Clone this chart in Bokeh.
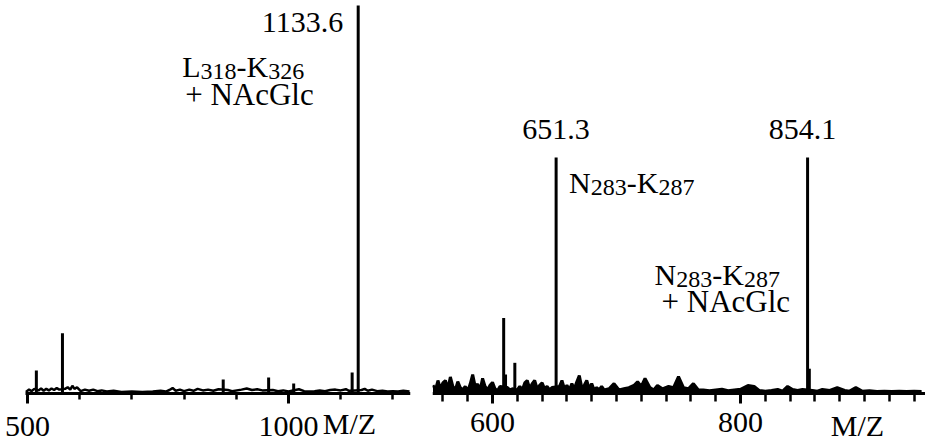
from bokeh.plotting import figure
from bokeh.layouts import row
from bokeh.models import Label, FixedTicker
from bokeh.embed import file_html
from bokeh.resources import INLINE

# ---------------- data ----------------
# Left spectrum (relative intensity, %)
left_peak_mz = [517, 567, 875, 962, 1010, 1122, 1133.6]
left_peak_int = [5.9, 15.5, 3.6, 4.1, 2.6, 5.4, 100]
left_noise_mz = [497, 503, 508, 513, 521, 526, 531, 536, 541, 546, 551, 556, 561, 572, 577,
                 582, 586, 590, 595, 602, 610, 618, 626, 634, 642, 652, 665, 680, 700, 720,
                 740, 755, 765, 772, 778, 784, 792, 800, 810, 818, 826, 836, 846, 856, 866,
                 884, 892, 910, 920, 930, 940, 950, 970, 980, 990, 1000, 1020, 1030, 1040,
                 1050, 1060, 1070, 1080, 1090, 1100, 1110, 1116, 1128, 1140, 1146, 1152,
                 1160, 1170, 1180, 1190, 1200, 1210, 1220, 1232]
left_noise_int = [0.4, 1.0, 0.6, 1.2, 0.8, 1.3, 0.7, 1.2, 0.8, 1.3, 0.9, 1.4, 1.0, 1.2, 1.6,
                  1.0, 2.0, 1.2, 1.6, 0.6, 1.0, 0.7, 1.0, 0.6, 0.8, 0.5, 0.7, 0.4, 0.5, 0.4,
                  0.5, 0.7, 0.5, 0.9, 1.4, 0.7, 1.0, 0.6, 1.0, 0.7, 1.2, 0.8, 1.0, 0.7, 1.1,
                  0.9, 0.6, 1.0, 1.3, 0.9, 1.1, 0.8, 0.9, 0.6, 0.8, 0.5, 1.1, 0.6, 0.5,
                  0.6, 0.8, 0.6, 0.9, 1.0, 0.8, 1.1, 0.7, 0.8, 0.9, 1.2, 0.7,
                  1.0, 0.6, 0.7, 0.5, 0.6, 0.5, 0.7, 0.5]
left_major_ticks = [500, 1000]
left_minor_ticks = [600, 700, 800, 900, 1100, 1200]

# Right spectrum (relative intensity, %)
right_peak_mz = [609, 610.5, 618, 651.3, 854.1, 855.5]
right_peak_int = [32, 8, 13, 100, 100, 10.5]
right_noise_mz = [552, 554, 556, 558, 560, 562, 564, 566, 568, 570, 572, 574, 576, 578, 580,
                  582, 584, 586, 588, 590, 592, 594, 596, 598, 600, 602, 604, 606,
                  612, 614, 616, 620, 622, 624, 626, 628, 630, 632, 634, 636, 638, 640, 642,
                  644, 646, 648,
                  654, 656, 658, 660, 662, 664, 666, 668, 670, 672, 674, 676, 678, 680, 682,
                  684, 686, 688, 690,
                  694, 698, 702, 706, 710, 714, 717, 720, 723, 727, 730, 733, 737, 742, 746,
                  750, 754, 758, 762, 766, 770, 775, 780, 785, 790, 795, 800, 806, 811, 815,
                  820, 825, 830, 834, 838, 842, 846, 850,
                  858, 862, 866, 872, 878, 884, 888, 893, 898, 904, 910, 916, 922, 928, 934,
                  940, 946]
right_noise_int = [3.5, 1.5, 5.5, 2, 4.5, 5.5, 2, 7, 3, 1.5, 5, 2.5, 1.5, 3, 1.2,
                   4, 8, 3, 4, 1.5, 6.4, 3, 1.5, 3.5, 4.7, 2, 1.2, 3,
                   2.5, 1.5, 2, 1.5, 3, 1.5, 4.5, 5.5, 2, 4.2, 5.5, 2, 3.5, 4.5, 2,
                   3, 1.5, 2.5,
                   3, 5.5, 2, 3.5, 1.5, 4.2, 2, 5, 7.6, 2.5, 3.5, 5.5, 2, 4.2, 1.5,
                   2.5, 1.5, 3, 1.5,
                   2, 4.2, 1.5, 2, 2.5, 3.4, 5, 3, 6.4, 2.5, 1.5, 3.4, 2, 3, 2.5,
                   7.2, 2.5, 2, 4.2, 1.5, 1.5, 1.2, 1.5, 1.8, 1.2, 1.5, 1.8, 3.4, 3, 1.3,
                   1, 1.3, 1.7, 1, 3, 1.7, 1.3, 1.7,
                   1.3, 1, 1.7, 1.3, 2.5, 1.3, 1, 2.5, 1, 1.2, 0.8, 1, 0.8, 1, 0.8,
                   1, 0.8]
right_major_ticks = [600, 800]
right_minor_ticks = [560, 580, 620, 640, 660, 680, 700, 720, 740, 760, 780, 820, 840, 860,
                     880, 900, 920, 940]

assert len(left_noise_mz) == len(left_noise_int)
assert len(right_noise_mz) == len(right_noise_int)

# ---------------- style ----------------
FONT = "Liberation Serif"
H = 441
BASE_PX = 393          # screen y of the intensity baseline
LEFT_YMAX = 101.3
RIGHT_YMAX = 166.5
TEXT_SHIFT = 11        # compensation for Label baseline placement

# Times-like advance widths (em) for piecewise text with subscripts
W = {"L": 0.611, "K": 0.722, "N": 0.722, "-": 0.333, "+": 0.564, " ": 0.25}


def text_width(s, size):
    return sum(W.get(c, 0.5) for c in s) * size


def yd(px, ymax):
    """screen y (from top) of a text baseline -> data y"""
    return (BASE_PX - (px - TEXT_SHIFT)) / BASE_PX * ymax


def add_label(p, x, y, text, size=30, x_offset=0, y_offset=0, align="left"):
    p.add_layout(Label(x=x, y=y, text=text, x_offset=x_offset, y_offset=y_offset,
                       text_font=FONT, text_font_size=f"{size}px", text_color="black",
                       text_align=align, text_baseline="alphabetic"))


def add_pieces(p, x, y, x_offset, pieces):
    off = x_offset
    for txt, size, dy in pieces:
        add_label(p, x, y, txt, size=size, x_offset=off, y_offset=-dy)
        off += text_width(txt, size)


def make_fig(width, x_range, axis_bounds, ymax, border_left, border_right, major, minor,
             major_out, minor_out, standoff):
    ymin = -(H - BASE_PX) / BASE_PX * ymax
    p = figure(width=width, height=H, x_range=x_range, y_range=(ymin, ymax),
               output_backend="svg", toolbar_location=None, y_axis_location=None,
               min_border_left=border_left, min_border_right=border_right,
               min_border_top=0, min_border_bottom=0)
    p.outline_line_color = None
    p.xgrid.visible = False
    p.ygrid.visible = False
    ax = p.xaxis[0]
    ax.fixed_location = 0
    ax.bounds = axis_bounds
    ax.ticker = FixedTicker(ticks=major, minor_ticks=minor)
    ax.axis_line_width = 3
    ax.axis_line_color = "black"
    ax.major_tick_line_width = 3
    ax.minor_tick_line_width = 2.5
    ax.major_tick_in = 0
    ax.minor_tick_in = 0
    ax.major_tick_out = major_out
    ax.minor_tick_out = minor_out
    ax.major_label_text_font = FONT
    ax.major_label_text_font_size = "30px"
    ax.major_label_text_color = "black"
    ax.major_label_standoff = standoff
    return p


# ---------------- left panel ----------------
p1 = make_fig(425, (448.3, 1233.8), (496.2, 1233.8), LEFT_YMAX, 0, 15,
              left_major_ticks, left_minor_ticks, 10, 6, 13)
p1.line(left_noise_mz, left_noise_int, line_color="black", line_width=2.5)
p1.segment(x0=left_peak_mz, y0=[0] * len(left_peak_mz), x1=left_peak_mz, y1=left_peak_int,
           line_color="black", line_width=3)

main_l = left_peak_mz[-1]
add_label(p1, main_l, yd(33, LEFT_YMAX), "1133.6", x_offset=-15, align="right")
add_pieces(p1, main_l, yd(77, LEFT_YMAX), -176,
           [("L", 30, 0), ("318", 24, 5), ("-K", 30, 0), ("326", 24, 5)])
add_label(p1, main_l, yd(105, LEFT_YMAX), "+ NAcGlc", size=31, x_offset=-173)
add_label(p1, 1000, yd(434, LEFT_YMAX), "M/Z", x_offset=61, align="center")

# ---------------- right panel ----------------
p2 = make_fig(500, (551.6, 949.2), (551.6, 949.2), RIGHT_YMAX, 7, 0,
              right_major_ticks, right_minor_ticks, 10, 8, 9)
p2.varea(x=right_noise_mz, y1=[0] * len(right_noise_mz), y2=right_noise_int,
         fill_color="black")
p2.line(right_noise_mz, right_noise_int, line_color="black", line_width=3)
p2.segment(x0=right_peak_mz, y0=[0] * len(right_peak_mz), x1=right_peak_mz, y1=right_peak_int,
           line_color="black", line_width=3)

pk1 = right_peak_mz[3]
pk2 = right_peak_mz[4]
add_label(p2, pk1, yd(140, RIGHT_YMAX), "651.3", align="center")
add_label(p2, pk2, yd(140, RIGHT_YMAX), "854.1", x_offset=-5, align="center")
add_pieces(p2, pk1, yd(193, RIGHT_YMAX), 13,
           [("N", 30, 0), ("283", 24, 5), ("-K", 30, 0), ("287", 24, 5)])
add_pieces(p2, pk2, yd(285, RIGHT_YMAX), -153,
           [("N", 30, 0), ("283", 24, 5), ("-K", 30, 0), ("287", 24, 5)])
add_label(p2, pk2, yd(312, RIGHT_YMAX), "+ NAcGlc", size=31, x_offset=-146)
add_label(p2, 800, yd(436, RIGHT_YMAX), "M/Z", x_offset=117, align="center")

layout = row(p1, p2, spacing=0)
open("out.html", "w").write(file_html(layout, INLINE))
